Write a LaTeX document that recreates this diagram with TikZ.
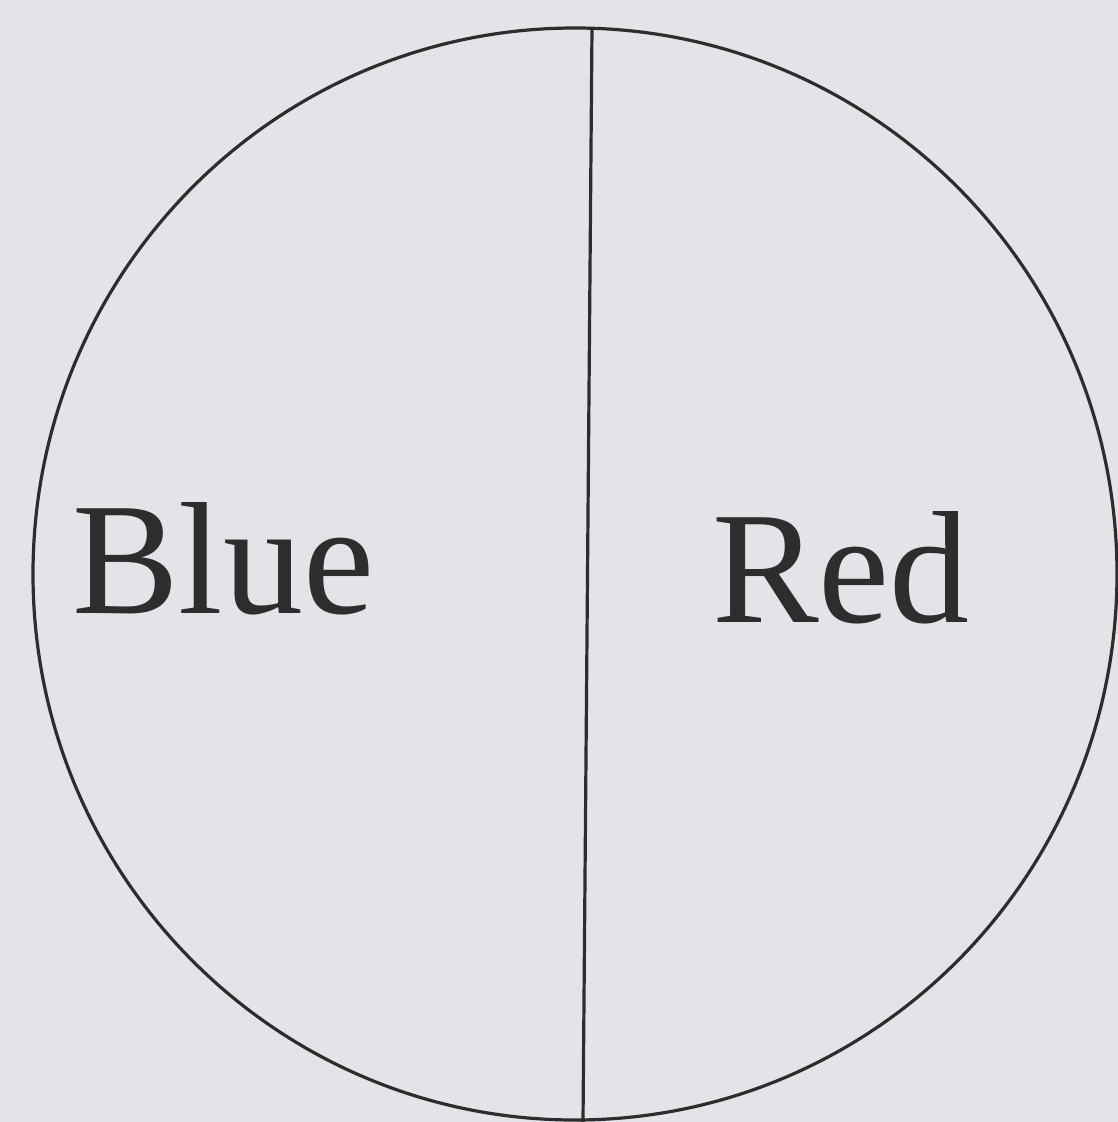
\documentclass[tikz,border=0pt]{standalone}
\usepackage{fontspec}
\setmainfont{Liberation Serif}
\definecolor{paper}{RGB}{228,227,232}
\definecolor{ink}{RGB}{45,45,45}
\tikzset{
  outline/.style={draw=ink, line width=3.2pt},
  label/.style={text=ink, font=\fontsize{160}{164}\selectfont, inner sep=0pt, anchor=base west}
}
\begin{document}
\begin{tikzpicture}[x=1pt,y=-1pt]
\fill[paper] (0,0) rectangle (1118,1122);
\useasboundingbox (0,0) rectangle (1118,1122);
\draw[outline] (575,574) ellipse [x radius=542, y radius=546];
\coordinate (top) at (592,28);
\coordinate (bottom) at (583,1122);
\draw[outline] (top) -- (bottom);
\node[label] (blue) at (72,613) {Blue};
\node[label] (red) at (712,622) {Red};
\end{tikzpicture}
\end{document}
